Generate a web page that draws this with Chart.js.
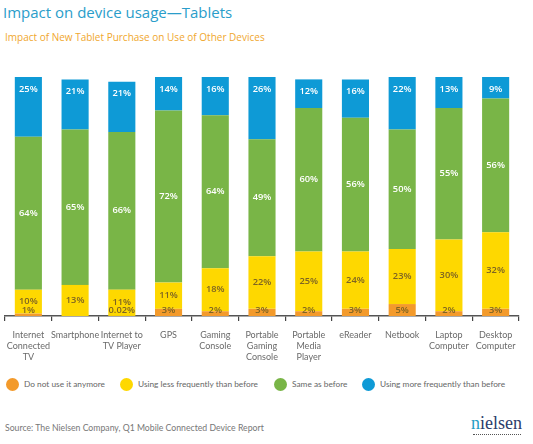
<!DOCTYPE html>
<html>
<head>
<meta charset="utf-8">
<script src="https://cdn.jsdelivr.net/npm/chart.js@4"></script>
<style>
  html, body { margin: 0; padding: 0; background: #fff; }
  body { width: 533px; height: 444px; position: relative; overflow: hidden; font-family: "Open Sans", sans-serif; }
  .title { position: absolute; left: 3px; top: 2px; font-size: 15px; color: #2a9dca; white-space: nowrap; }
  .subtitle { position: absolute; left: 5px; top: 30px; font-size: 10px; color: #f0a72e; white-space: nowrap; }
  #chart { position: absolute; left: 0; top: 70px; }
  .legend-item { position: absolute; top: 378px; height: 14px; font-family: Lato, sans-serif; font-size: 8.3px; color: #666; white-space: nowrap; line-height: 13px; }
  .legend-item .dot { position: absolute; left: 0; top: 0; width: 13px; height: 13px; border-radius: 50%; }
  .legend-item .txt { position: absolute; left: 18px; top: 0; }
  .source { position: absolute; left: 5px; top: 422px; font-family: Lato, sans-serif; font-size: 8.7px; color: #777; white-space: nowrap; }
  .logo { position: absolute; left: 471px; top: 413px; font-family: "Liberation Serif", "DejaVu Serif", serif; font-size: 18px; color: #2b3c6b; }
  .logo .n { color: #1f9dc4; }
  .logo-dots { position: absolute; left: 473px; top: 434px; width: 48px; border-top: 1.5px dotted #555; }
</style>
</head>
<body>
<div class="title">Impact on device usage—Tablets</div>
<div class="subtitle">Impact of New Tablet Purchase on Use of Other Devices</div>
<canvas id="chart" width="533" height="300"></canvas>
<div id="legend"></div>
<div class="source">Source: The Nielsen Company, Q1 Mobile Connected Device Report</div>
<div class="logo"><span class="n">n</span>ielsen</div>
<div class="logo-dots"></div>
<script>
// Gegevens (in %)
const categories = [
    ['Internet', 'Connected', 'TV'], 'Smartphone', ['Internet to', 'TV Player'], 'GPS',
    ['Gaming', 'Console'], ['Portable', 'Gaming', 'Console'], ['Portable', 'Media', 'Player'],
    'eReader', 'Netbook', ['Laptop', 'Computer'], ['Desktop', 'Computer']
];
const seriesNames = ['Do not use it anymore', 'Using less frequently than before', 'Same as before', 'Using more frequently than before'];
const noLonger  = [1, 0, 0.02, 3, 2, 3, 2, 3, 5, 2, 3];
const lessOften = [10, 13, 11, 11, 18, 22, 25, 24, 23, 30, 32];
const same      = [64, 65, 66, 72, 64, 49, 60, 56, 50, 55, 56];
const moreOften = [25, 21, 21, 14, 16, 26, 12, 16, 22, 13, 9];

const colors = ['#f39a2b', '#fed800', '#79b547', '#0e9ad6'];
const labelColors = ['#7d6423', '#7d6423', '#ffffff', '#ffffff'];
const legendLeft = [6, 120, 274, 362];

// Legenda
const legend = document.getElementById('legend');
seriesNames.forEach((name, i) => {
    const item = document.createElement('div');
    item.className = 'legend-item';
    item.style.left = legendLeft[i] + 'px';
    item.innerHTML = `<span class="dot" style="background:${colors[i]}"></span><span class="txt">${name}</span>`;
    legend.appendChild(item);
});

// Percentages in de balken
const valueLabels = {
    id: 'valueLabels',
    afterDatasetsDraw(chart) {
        const ctx = chart.ctx;
        ctx.save();
        ctx.font = '600 9.3px "Open Sans"';
        ctx.textAlign = 'center';
        ctx.textBaseline = 'middle';
        chart.data.datasets.forEach((ds, i) => {
            chart.getDatasetMeta(i).data.forEach((bar, j) => {
                const v = ds.data[j];
                if (!v) return;
                const top = Math.min(bar.y, bar.base);
                const bottom = Math.max(bar.y, bar.base);
                let y = (top + bottom) / 2;
                if (i === 0) y = bottom - 6;
                if (i === 3) y = top + 12;
                ctx.fillStyle = labelColors[i];
                ctx.fillText(v + '%', bar.x, y);
            });
        });
        ctx.restore();
    }
};

const seriesData = [noLonger, lessOften, same, moreOften];

new Chart(document.getElementById('chart'), {
    type: 'bar',
    data: {
        labels: categories,
        datasets: seriesData.map((d, i) => ({
            label: seriesNames[i],
            data: d,
            backgroundColor: colors[i],
            borderWidth: 0,
            categoryPercentage: 1,
            barPercentage: 0.58
        }))
    },
    options: {
        responsive: false,
        animation: false,
        layout: { padding: { left: 5, right: 14, top: 7, bottom: 0 } },
        plugins: {
            legend: { display: false },
            tooltip: { enabled: false }
        },
        scales: {
            x: {
                stacked: true,
                afterFit(scale) {
                    scale.height = 54;
                    scale.paddingLeft = 0;
                    scale.paddingRight = 0;
                },
                grid: { display: true, drawOnChartArea: false, drawTicks: true, tickLength: 5, color: '#444', lineWidth: 1.2 },
                border: { display: true, color: '#555', width: 1.5 },
                ticks: {
                    color: '#6a6a6a',
                    padding: 9,
                    maxRotation: 0,
                    autoSkip: false,
                    font: { family: 'Lato', size: 9, lineHeight: 1.2 }
                }
            },
            y: {
                stacked: true,
                display: false,
                min: 0,
                max: 100
            }
        }
    },
    plugins: [valueLabels]
});
</script>
</body>
</html>
